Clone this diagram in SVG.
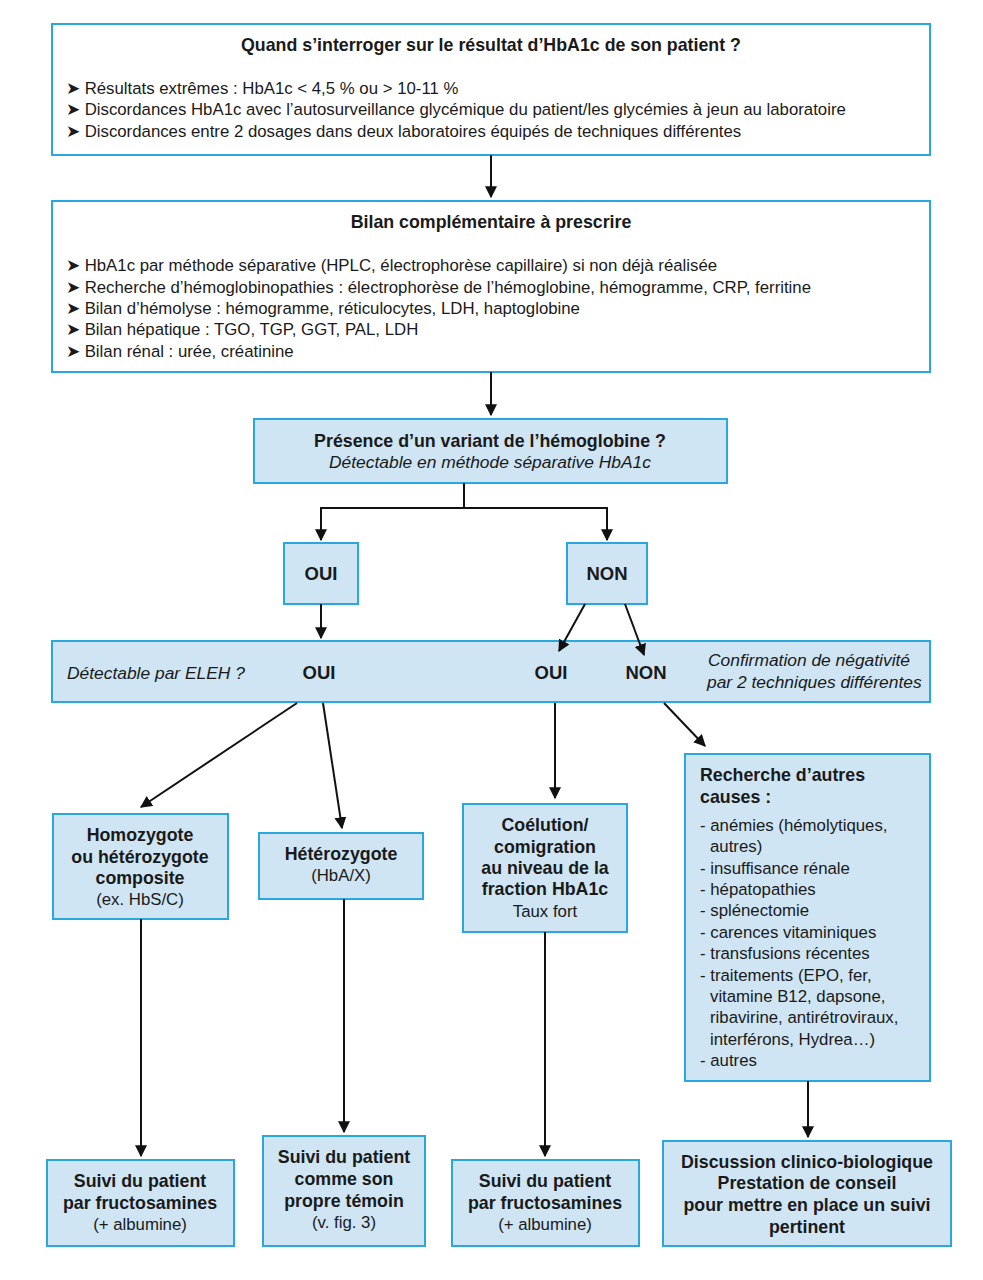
<svg xmlns="http://www.w3.org/2000/svg" width="983" height="1280" viewBox="0 0 983 1280">
<style>
text{font-family:"Liberation Sans",Arial,sans-serif;font-size:16.8px;fill:#1a1a1a}
.b{font-weight:bold;font-size:17.8px}
.i{font-style:italic;font-size:17.4px}
.o{font-weight:bold;font-size:18.5px}
.m{text-anchor:middle}
.w{fill:#ffffff;stroke:#29a8df;stroke-width:2}
.f{fill:#cfe5f4;stroke:#29a8df;stroke-width:2}
.c{fill:none;stroke:#111;stroke-width:2}
</style>
<defs>
<marker id="ah" viewBox="0 0 10 10" refX="9" refY="5" markerWidth="6" markerHeight="6" markerUnits="strokeWidth" orient="auto">
<path d="M0,0 L10,5 L0,10 z" fill="#111"/>
</marker>
</defs>
<rect width="983" height="1280" fill="#ffffff"/>

<g id="n1">
<rect class="w" x="52" y="24" width="878" height="131"/>
<text class="b m" x="491" y="51">Quand s’interroger sur le résultat d’HbA1c de son patient ?</text>
<text x="66" y="94">➤ Résultats extrêmes : HbA1c &lt; 4,5 % ou &gt; 10-11 %</text>
<text x="66" y="115">➤ Discordances HbA1c avec l’autosurveillance glycémique du patient/les glycémies à jeun au laboratoire</text>
<text x="66" y="137">➤ Discordances entre 2 dosages dans deux laboratoires équipés de techniques différentes</text>
</g>

<g id="n2">
<rect class="w" x="52" y="201" width="878" height="171"/>
<text class="b m" x="491" y="228">Bilan complémentaire à prescrire</text>
<text x="66" y="271">➤ HbA1c par méthode séparative (HPLC, électrophorèse capillaire) si non déjà réalisée</text>
<text x="66" y="293">➤ Recherche d’hémoglobinopathies : électrophorèse de l’hémoglobine, hémogramme, CRP, ferritine</text>
<text x="66" y="314">➤ Bilan d’hémolyse : hémogramme, réticulocytes, LDH, haptoglobine</text>
<text x="66" y="335">➤ Bilan hépatique : TGO, TGP, GGT, PAL, LDH</text>
<text x="66" y="357">➤ Bilan rénal : urée, créatinine</text>
</g>

<g id="n3">
<rect class="f" x="254" y="419" width="473" height="64"/>
<text class="b m" x="490" y="447">Présence d’un variant de l’hémoglobine ?</text>
<text class="i m" x="490" y="468">Détectable en méthode séparative HbA1c</text>
</g>

<g id="n4">
<rect class="f" x="284" y="543" width="74" height="61"/>
<text class="o m" x="321" y="580">OUI</text>
</g>

<g id="n5">
<rect class="f" x="567" y="543" width="80" height="61"/>
<text class="o m" x="607" y="580">NON</text>
</g>

<g id="n6">
<rect class="f" x="52" y="641" width="878" height="61"/>
<text class="i" x="67" y="679">Détectable par ELEH ?</text>
<text class="o m" x="319" y="679">OUI</text>
<text class="o m" x="551" y="679">OUI</text>
<text class="o m" x="646" y="679">NON</text>
<text class="i" x="708" y="666">Confirmation de négativité</text>
<text class="i" x="707" y="688">par 2 techniques différentes</text>
</g>

<g id="n7">
<rect class="f" x="53" y="814" width="175" height="105"/>
<text class="b m" x="140" y="841">Homozygote</text>
<text class="b m" x="140" y="863">ou hétérozygote</text>
<text class="b m" x="140" y="884">composite</text>
<text class="m" x="140" y="905">(ex. HbS/C)</text>
</g>

<g id="n8">
<rect class="f" x="259" y="833" width="164" height="66"/>
<text class="b m" x="341" y="860">Hétérozygote</text>
<text class="m" x="341" y="881">(HbA/X)</text>
</g>

<g id="n9">
<rect class="f" x="463" y="804" width="164" height="128"/>
<text class="b m" x="545" y="831">Coélution/</text>
<text class="b m" x="545" y="853">comigration</text>
<text class="b m" x="545" y="874">au niveau de la</text>
<text class="b m" x="545" y="895">fraction HbA1c</text>
<text class="m" x="545" y="917">Taux fort</text>
</g>

<g id="n10">
<rect class="f" x="685" y="754" width="245" height="327"/>
<text class="b" x="700" y="781">Recherche d’autres</text>
<text class="b" x="700" y="803">causes :</text>
<text x="700" y="831">- anémies (hémolytiques,</text>
<text x="710" y="852">autres)</text>
<text x="700" y="874">- insuffisance rénale</text>
<text x="700" y="895">- hépatopathies</text>
<text x="700" y="916">- splénectomie</text>
<text x="700" y="938">- carences vitaminiques</text>
<text x="700" y="959">- transfusions récentes</text>
<text x="700" y="981">- traitements (EPO, fer,</text>
<text x="710" y="1002">vitamine B12, dapsone,</text>
<text x="710" y="1023">ribavirine, antirétroviraux,</text>
<text x="710" y="1045">interférons, Hydrea…)</text>
<text x="700" y="1066">- autres</text>
</g>

<g id="n11">
<rect class="f" x="47" y="1160" width="187" height="86"/>
<text class="b m" x="140" y="1187">Suivi du patient</text>
<text class="b m" x="140" y="1209">par fructosamines</text>
<text class="m" x="140" y="1230">(+ albumine)</text>
</g>

<g id="n12">
<rect class="f" x="263" y="1136" width="162" height="110"/>
<text class="b m" x="344" y="1163">Suivi du patient</text>
<text class="b m" x="344" y="1185">comme son</text>
<text class="b m" x="344" y="1207">propre témoin</text>
<text class="m" x="344" y="1228">(v. fig. 3)</text>
</g>

<g id="n13">
<rect class="f" x="452" y="1160" width="187" height="86"/>
<text class="b m" x="545" y="1187">Suivi du patient</text>
<text class="b m" x="545" y="1209">par fructosamines</text>
<text class="m" x="545" y="1230">(+ albumine)</text>
</g>

<g id="n14">
<rect class="f" x="663" y="1141" width="288" height="105"/>
<text class="b m" x="807" y="1168">Discussion clinico-biologique</text>
<text class="b m" x="807" y="1189">Prestation de conseil</text>
<text class="b m" x="807" y="1211">pour mettre en place un suivi</text>
<text class="b m" x="807" y="1233">pertinent</text>
</g>

<g id="connectors">
<path class="c" d="M491,155 V197" marker-end="url(#ah)"/>
<path class="c" d="M491,372 V415" marker-end="url(#ah)"/>
<path class="c" d="M464,483 V508 H321 V540" marker-end="url(#ah)"/>
<path class="c" d="M464,508 H607 V540" marker-end="url(#ah)"/>
<path class="c" d="M321,604 V638" marker-end="url(#ah)"/>
<path class="c" d="M585,604 L559,651" marker-end="url(#ah)"/>
<path class="c" d="M625,604 L644,655" marker-end="url(#ah)"/>
<path class="c" d="M297,703 L141,807" marker-end="url(#ah)"/>
<path class="c" d="M323,703 L342,828" marker-end="url(#ah)"/>
<path class="c" d="M555,703 V798" marker-end="url(#ah)"/>
<path class="c" d="M664,703 L705,746" marker-end="url(#ah)"/>
<path class="c" d="M141,919 V1156" marker-end="url(#ah)"/>
<path class="c" d="M344,899 V1132" marker-end="url(#ah)"/>
<path class="c" d="M545,932 V1156" marker-end="url(#ah)"/>
<path class="c" d="M808,1081 V1137" marker-end="url(#ah)"/>
</g>
</svg>
